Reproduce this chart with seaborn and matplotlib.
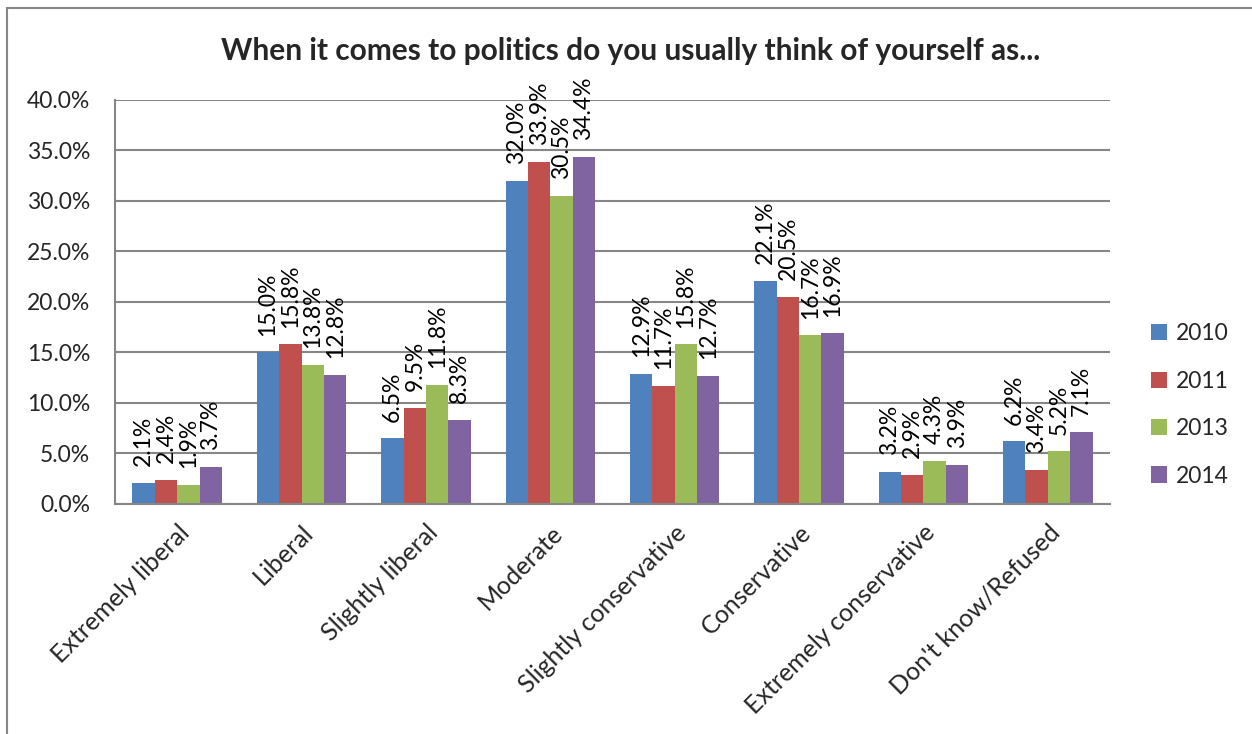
import pandas as pd
import matplotlib
matplotlib.use('Agg')
import matplotlib.pyplot as plt
import seaborn as sns
from matplotlib.lines import Line2D
from matplotlib.ticker import FuncFormatter

categories = ['Extremely liberal', 'Liberal', 'Slightly liberal', 'Moderate',
              'Slightly conservative', 'Conservative', 'Extremely conservative',
              "Don't know/Refused"]
years = ['2010', '2011', '2013', '2014']
v2010 = [2.1, 15.0, 6.5, 32.0, 12.9, 22.1, 3.2, 6.2]
v2011 = [2.4, 15.8, 9.5, 33.9, 11.7, 20.5, 2.9, 3.4]
v2013 = [1.9, 13.8, 11.8, 30.5, 15.8, 16.7, 4.3, 5.2]
v2014 = [3.7, 12.8, 8.3, 34.4, 12.7, 16.9, 3.9, 7.1]
custom_pal = ['#4F81BD', '#C0504D', '#9BBB59', '#8064A2']

sns.set_style('white')
plt.rcParams['font.family'] = ['Lato', 'DejaVu Sans']

rows = []
for yr, vals in zip(years, [v2010, v2011, v2013, v2014]):
    for cat, v in zip(categories, vals):
        rows.append({'Category': cat, 'Year': yr, 'Value': v})
df = pd.DataFrame(rows)

fig = plt.figure(figsize=(12.52, 7.34), dpi=100)
ax = fig.add_axes([0.0919, 0.3134, 0.7947, 0.5504])

sns.barplot(data=df, x='Category', y='Value', hue='Year', order=categories,
            hue_order=years, palette=custom_pal, width=0.72, saturation=1,
            edgecolor='none', ax=ax, zorder=2)

# data labels above each bar (rotated, with a gap like Excel)
for cont in ax.containers:
    ax.bar_label(cont, labels=[f'{b.get_height():.1f}%' for b in cont],
                 rotation=90, padding=12, fontsize=16.5, color='black')

ax.set_ylim(0, 40)
ax.set_yticks(range(0, 41, 5))
ax.yaxis.set_major_formatter(FuncFormatter(lambda v, p: f'{v:.1f}%'))
ax.tick_params(axis='y', labelsize=16.5, length=0, pad=18)
ax.tick_params(axis='x', labelsize=18, length=0, pad=12)
plt.setp(ax.get_xticklabels(), rotation=45, ha='right', rotation_mode='anchor')
ax.yaxis.grid(True, color='#868686', linewidth=1.5, zorder=0)
ax.set_axisbelow(True)
ax.set_xlabel('')
ax.set_ylabel('')
for s in ['top', 'right']:
    ax.spines[s].set_visible(False)
for s in ['left', 'bottom']:
    ax.spines[s].set_color('#868686')
    ax.spines[s].set_linewidth(1.5)

fig.text(0.504, 0.93, 'When it comes to politics do you usually think of yourself as...',
         ha='center', va='center', fontsize=21.5, fontweight='bold')

ax.legend(loc='center left', bbox_to_anchor=(1.02, 0.245), frameon=False,
          fontsize=16.5, handlelength=0.7, handleheight=0.7, labelspacing=1.15,
          handletextpad=0.4)

# chart area border (left and top edges visible)
fig.add_artist(Line2D([0.0056, 0.0056], [0.0, 0.989], color='#868686', lw=1.5))
fig.add_artist(Line2D([0.0056, 1.0], [0.989, 0.989], color='#868686', lw=1.5))

fig.savefig('out.png', dpi=100)
